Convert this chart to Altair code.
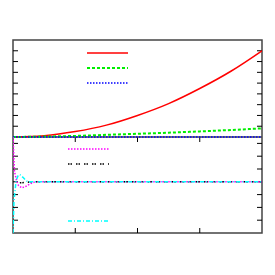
import altair as alt
import pandas as pd

# ---- data ----
t_top = [0, 0.5, 1, 1.5, 2, 2.5, 3, 3.5, 4]
red_vals = [0, 0.12, 0.5, 1.1, 2.0, 3.1, 4.5, 6.1, 8.0]
green_vals = [0, 0.04, 0.1, 0.2, 0.3, 0.4, 0.52, 0.65, 0.8]
blue_vals = [0, 0, 0, 0, 0, 0, 0, 0, 0]

t_mag = [0, 0.024, 0.06, 0.09, 0.14, 0.19, 0.26, 0.35, 1, 2, 3, 4]
mag_vals = [3.5, 0.8, 0.05, -0.3, -0.47, -0.4, -0.2, 0, 0, 0, 0, 0]
t_cyan = [0, 0.016, 0.05, 0.08, 0.11, 0.16, 0.21, 0.24, 1, 2, 3, 4]
cyan_vals = [-4, -1.5, 0.1, 0.45, 0.57, 0.35, 0.1, 0, 0, 0, 0, 0]
t_black = [0.11, 0.19, 0.3, 1, 2, 3, 4]
black_vals = [-0.08, -0.05, 0, 0, 0, 0, 0]

top_ticks = [1, 2, 3, 4, 5, 6, 7, 8]
bot_ticks = [-3, -2, -1, 0, 1, 2, 3]
x_ticks = [1, 2, 3]

W = 249
H_TOP = 97
H_BOT = 96
H = H_TOP + H_BOT
TL = 5  # tick length in px

df_top = pd.DataFrame({"t": t_top, "red": red_vals, "green": green_vals, "blue": blue_vals})
df_mag = pd.DataFrame({"t": t_mag, "v": mag_vals})
df_cyan = pd.DataFrame({"t": t_cyan, "v": cyan_vals})
df_black = pd.DataFrame({"t": t_black, "v": black_vals})
df_tt = pd.DataFrame({"v": top_ticks})
df_bt = pd.DataFrame({"v": bot_ticks})
df_xt = pd.DataFrame({"v": x_ticks})
one = pd.DataFrame({"a": [0]})

xs = alt.Scale(domain=[0, 4], nice=False, zero=False)
ys_top = alt.Scale(domain=[0, 9], range=[H_TOP, 0], nice=False, zero=False)
ys_bot = alt.Scale(domain=[-4, 3.5], range=[H, H_TOP], nice=False, zero=False)

X = alt.X("t:Q", scale=xs, axis=None)
TICK = dict(color="#000000", strokeWidth=1)


def yticks(df, scale):
    left = alt.Chart(df).mark_rule(**TICK).encode(
        y=alt.Y("v:Q", scale=scale, axis=None), x=alt.value(0), x2=alt.value(TL))
    right = alt.Chart(df).mark_rule(**TICK).encode(
        y=alt.Y("v:Q", scale=scale, axis=None), x=alt.value(W - TL), x2=alt.value(W))
    return [left, right]


def legend_key(color, width, dash, x0, x1, y):
    kw = dict(color=color, strokeWidth=width)
    if dash:
        kw["strokeDash"] = dash
    return alt.Chart(one).mark_rule(**kw).encode(
        x=alt.value(x0), x2=alt.value(x1), y=alt.value(y))


RED = ("#ff0000", 1.5, None)
GREEN = ("#00ee00", 2, [3, 2])
BLUE = ("#0000ff", 1.5, [1.5, 1.5])
MAG = ("#ff00ff", 1.5, [1.5, 1.5])
BLACK = ("#000000", 1.5, [1.5, 1, 1.5, 4])
CYAN = ("#00ffff", 1.5, [4, 2, 1, 2])


def line(df, field, scale, style, interp="linear"):
    color, width, dash = style
    kw = dict(color=color, strokeWidth=width, interpolate=interp, clip=True)
    if dash:
        kw["strokeDash"] = dash
    return alt.Chart(df).mark_line(**kw).encode(
        x=X, y=alt.Y(f"{field}:Q", scale=scale, axis=None))


# separator between the two panels
sep = alt.Chart(one).mark_rule(color="#444444", strokeWidth=1.5).encode(
    x=alt.value(0), x2=alt.value(W), y=alt.value(H_TOP))

xt_bottom = alt.Chart(df_xt).mark_rule(**TICK).encode(
    x=alt.X("v:Q", scale=xs, axis=None), y=alt.value(H - TL), y2=alt.value(H))
xt_mid = alt.Chart(df_xt).mark_rule(**TICK).encode(
    x=alt.X("v:Q", scale=xs, axis=None), y=alt.value(H_TOP), y2=alt.value(H_TOP + TL))

layers = [
    *yticks(df_tt, ys_top), *yticks(df_bt, ys_bot), xt_bottom, xt_mid, sep,
    line(df_top, "red", ys_top, RED, "monotone"),
    line(df_top, "green", ys_top, GREEN, "monotone"),
    line(df_top, "blue", ys_top, BLUE),
    line(df_mag, "v", ys_bot, MAG),
    line(df_black, "v", ys_bot, BLACK),
    line(df_cyan, "v", ys_bot, CYAN),
    legend_key(*RED, 74, 115, 13),
    legend_key(*GREEN, 74, 115, 28),
    legend_key(*BLUE, 74, 115, 43),
    legend_key(*MAG, 55, 96, H_TOP + 12),
    legend_key(*BLACK, 55, 96, H_TOP + 27),
    legend_key(*CYAN, 55, 96, H_TOP + 84),
]

chart = alt.layer(*layers).resolve_scale(y="independent").properties(
    width=W, height=H,
    padding={"left": 5, "top": 32, "right": 5, "bottom": 5},
    autosize=alt.AutoSizeParams(type="none"),
    background="#ffffff",
).configure_view(stroke="#444444", strokeWidth=1.5)

chart.save("out.html", embed_options={"renderer": "svg", "actions": False})
